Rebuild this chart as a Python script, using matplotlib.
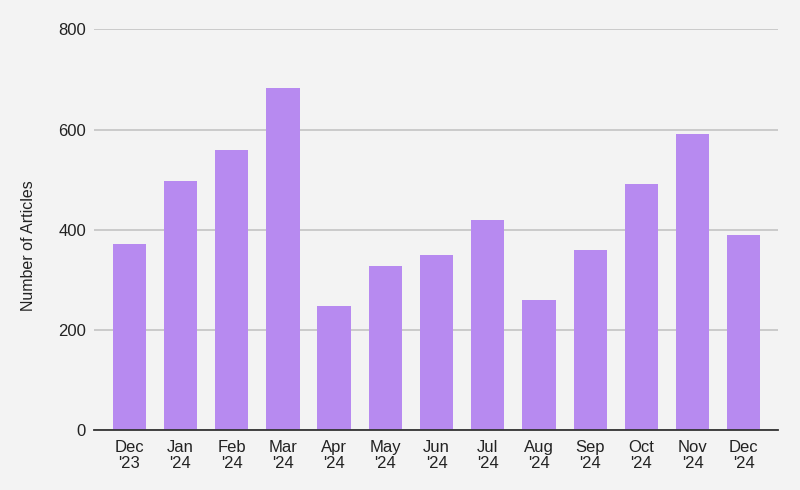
import matplotlib.pyplot as plt

months = ["Dec", "Jan", "Feb", "Mar", "Apr", "May", "Jun",
          "Jul", "Aug", "Sep", "Oct", "Nov", "Dec"]
years = ["'23", "'24", "'24", "'24", "'24", "'24", "'24",
         "'24", "'24", "'24", "'24", "'24", "'24"]
articles = [371, 498, 560, 684, 247, 328, 350, 420, 260, 360, 492, 592, 390]

plt.rcParams['font.family'] = ['Liberation Sans', 'DejaVu Sans']

fig = plt.figure(figsize=(8, 4.9), dpi=100)
fig.patch.set_facecolor('#f3f3f3')
ax = fig.add_axes([0.118, 0.122, 0.854, 0.818])
ax.set_facecolor('#f3f3f3')

labels = [f"{m}\n{y}" for m, y in zip(months, years)]
x = range(len(articles))
ax.bar(x, articles, width=0.65, color='#b78af0', zorder=3)

ax.set_ylim(0, 800)
ax.set_yticks([0, 200, 400, 600, 800])
ax.set_xlim(-0.68, len(articles) - 0.34)
ax.set_xticks(list(x))
ax.set_xticklabels(labels, fontsize=12, color='#222222', linespacing=1.05)
ax.tick_params(axis='y', labelsize=12, colors='#222222', length=0, pad=6)
ax.tick_params(axis='x', length=0, pad=7)

ax.grid(axis='y', color='#c4c4c4', linewidth=1.2, zorder=0)
for side in ['top', 'right', 'left']:
    ax.spines[side].set_visible(False)
ax.spines['bottom'].set_color('#333333')
ax.spines['bottom'].set_linewidth(1.3)
ax.spines['bottom'].set_zorder(4)

ax.set_ylabel('Number of Articles', fontsize=11.5, color='#222222')
ax.yaxis.set_label_coords(-0.085, 0.46)

plt.savefig('out.png', dpi=100, facecolor=fig.get_facecolor())
